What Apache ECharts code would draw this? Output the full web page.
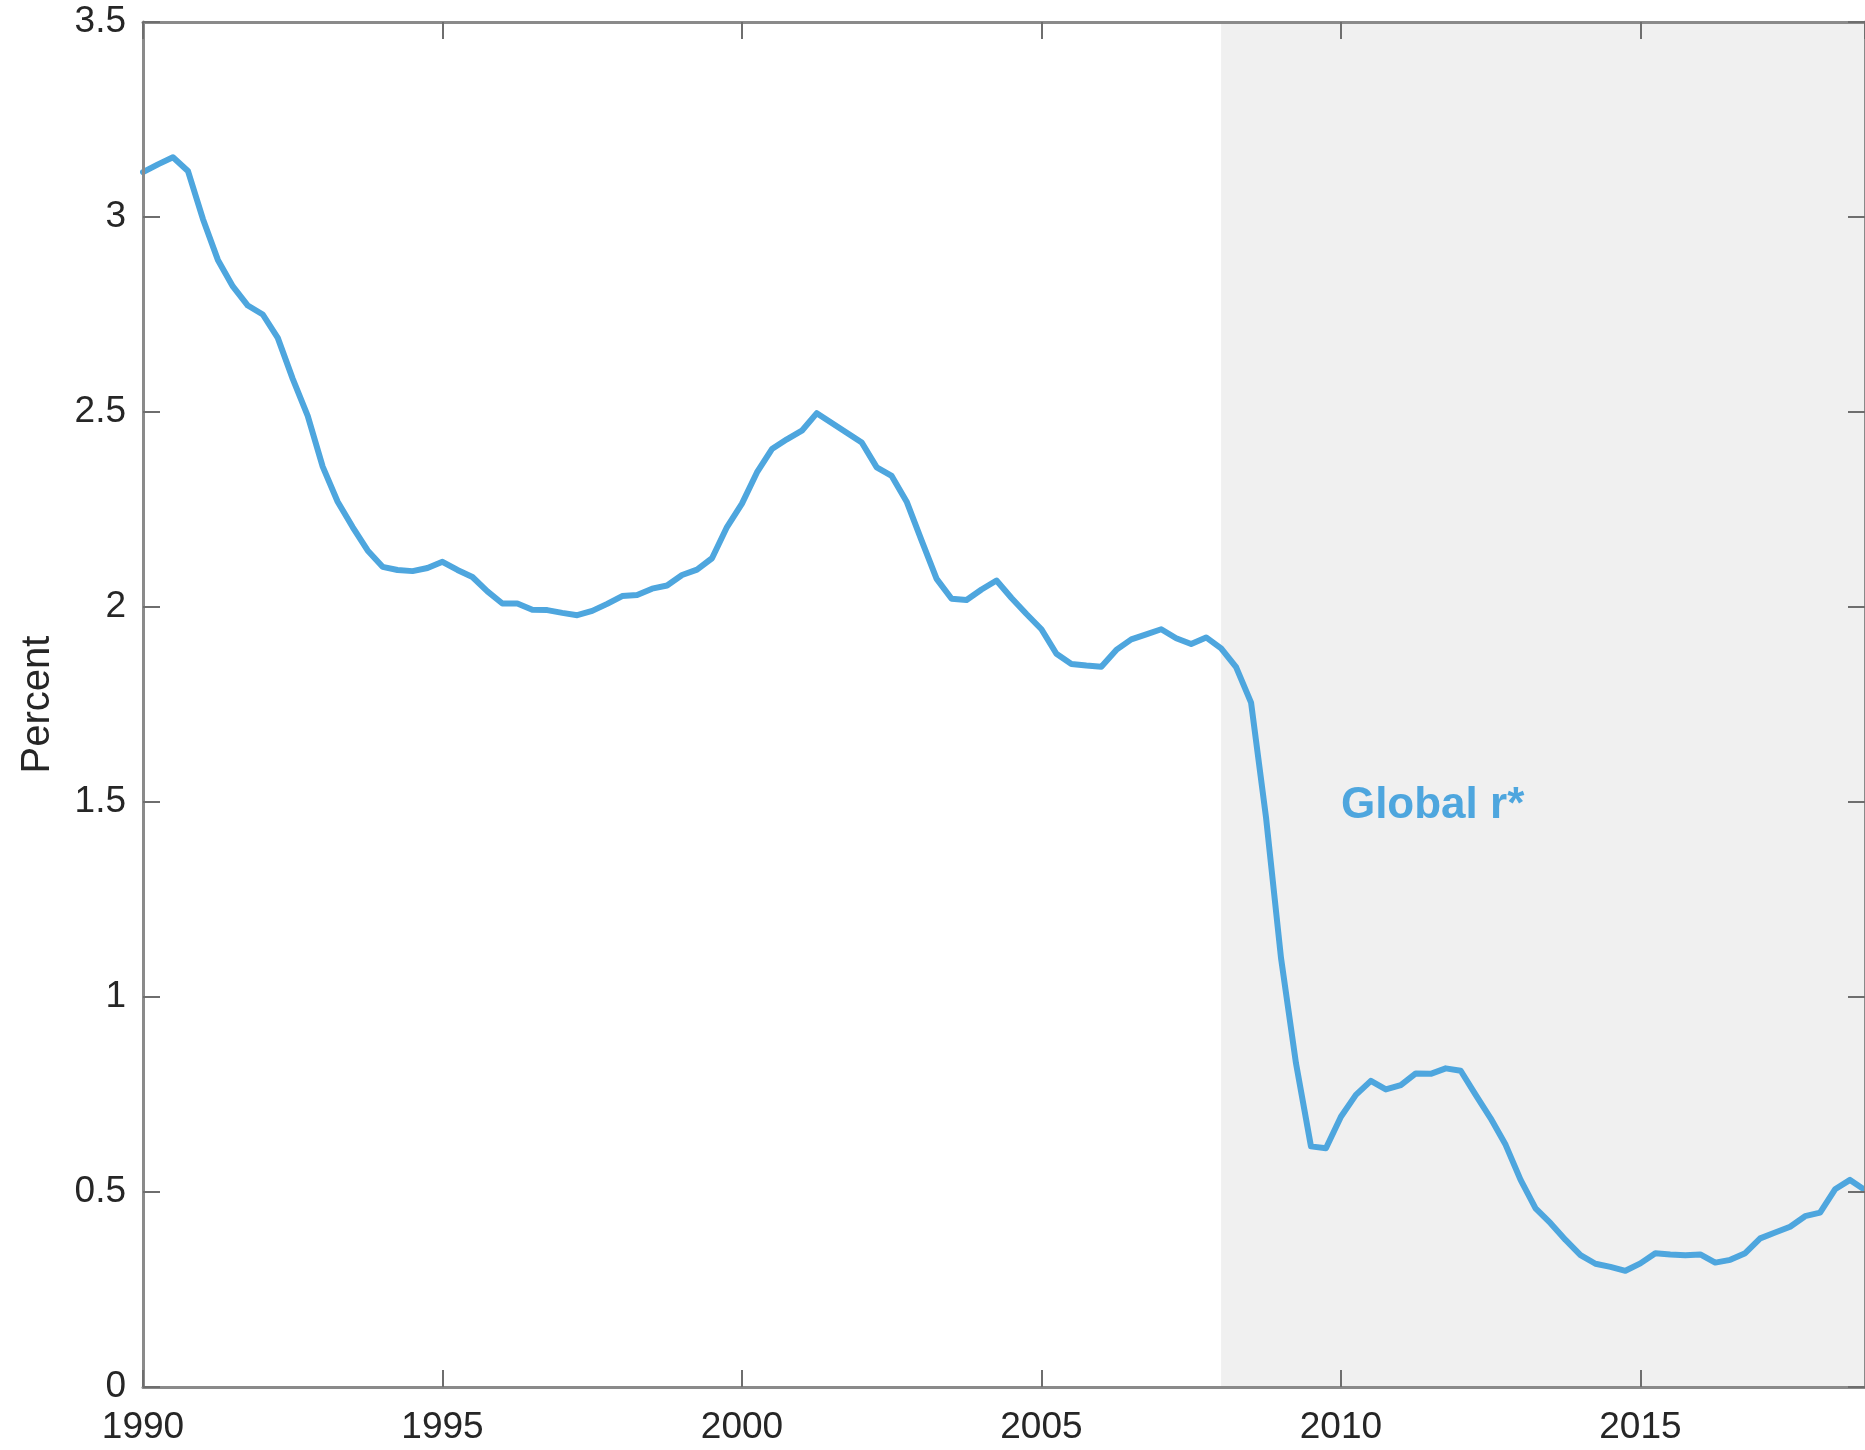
<!DOCTYPE html>
<html>
<head>
<meta charset="utf-8">
<script src="https://cdn.jsdelivr.net/npm/echarts@6/dist/echarts.min.js"></script>
<style>
html,body{margin:0;padding:0;background:#fff;overflow:hidden;}
#chart{width:1865px;height:1450px;}
</style>
</head>
<body>
<div id="chart"></div>
<script>
// Quarterly estimates of global r*, 1990Q1 .. 2018Q4 (percent)
const firstYear = 1990;
const periodsPerYear = 4;
const globalRStar = [
  3.115, 3.135, 3.153, 3.118,
  2.995, 2.890, 2.822, 2.773,
  2.750, 2.690, 2.585, 2.490,
  2.360, 2.270, 2.205, 2.145,
  2.103, 2.095, 2.092, 2.100,
  2.116, 2.095, 2.077, 2.040,
  2.009, 2.009, 1.993, 1.992,
  1.985, 1.979, 1.990, 2.008,
  2.028, 2.031, 2.047, 2.055,
  2.082, 2.096, 2.125, 2.205,
  2.265, 2.345, 2.405, 2.430,
  2.452, 2.497, 2.472, 2.447,
  2.422, 2.358, 2.336, 2.270,
  2.170, 2.072, 2.021, 2.018,
  2.045, 2.068, 2.023, 1.982,
  1.943, 1.880, 1.854, 1.850,
  1.847, 1.890, 1.917, 1.930,
  1.943, 1.920, 1.905, 1.922,
  1.894, 1.846, 1.755, 1.460,
  1.100, 0.830, 0.617, 0.612,
  0.693, 0.749, 0.785, 0.763,
  0.774, 0.804, 0.803, 0.817,
  0.811, 0.749, 0.689, 0.621,
  0.531, 0.458, 0.420, 0.377,
  0.338, 0.316, 0.308, 0.298,
  0.317, 0.343, 0.340, 0.338,
  0.340, 0.319, 0.326, 0.343,
  0.381, 0.396, 0.411, 0.438,
  0.447, 0.507, 0.531, 0.505
];
const xTickLabels = [1990, 1995, 2000, 2005, 2010, 2015];
const yTickLabels = [0, 0.5, 1, 1.5, 2, 2.5, 3, 3.5];
const shadeStart = 2008;
const annotationText = 'Global r*';
const annotationAt = [2010, 1.49];
const yAxisTitle = 'Percent';

const seriesData = globalRStar.map((v, i) => [firstYear + i / periodsPerYear, v]);
const xMin = firstYear;
const xMax = seriesData[seriesData.length - 1][0];

const lineColor = '#4ea6de';
const axisColor = '#8a8a8a';
const tickColor = '#6e6e6e';
const textColor = '#262626';
const font = "'Liberation Sans', Arial, sans-serif";

const chart = echarts.init(document.getElementById('chart'), null, {renderer: 'canvas'});

function xAxisCfg(pos, showLabels) {
  return {
    type: 'value', position: pos, min: xMin, max: xMax, interval: 5,
    z: 10,
    axisLine: {show: true, onZero: false, lineStyle: {color: axisColor, width: 3}},
    axisTick: {show: true, inside: true, length: 17,
      lineStyle: {color: tickColor, width: 2}},
    splitLine: {show: false},
    axisLabel: {
      show: showLabels, margin: 22, color: textColor, fontSize: 37, fontFamily: font,
      showMaxLabel: false,
      formatter: v => (xTickLabels.indexOf(Math.round(v * 100) / 100) >= 0 ? String(v) : '')
    }
  };
}
function yAxisCfg(pos, showLabels) {
  return {
    type: 'value', position: pos, min: yTickLabels[0], max: yTickLabels[yTickLabels.length - 1],
    interval: 0.5, z: 10,
    name: showLabels ? yAxisTitle : '',
    nameLocation: 'middle', nameGap: 85,
    nameTextStyle: {color: textColor, fontSize: 40, fontFamily: font},
    axisLine: {show: true, onZero: false, lineStyle: {color: axisColor, width: 3}},
    axisTick: {show: true, inside: true, length: 17,
      lineStyle: {color: tickColor, width: 2}},
    splitLine: {show: false},
    axisLabel: {show: showLabels, margin: 17, color: textColor, fontSize: 37, fontFamily: font}
  };
}

chart.setOption({
  animation: false,
  backgroundColor: '#ffffff',
  grid: {left: 143, top: 22, right: -3, bottom: 63, containLabel: false},
  xAxis: [xAxisCfg('bottom', true), xAxisCfg('top', false)],
  yAxis: [yAxisCfg('left', true), yAxisCfg('right', false)],
  series: [{
    type: 'line',
    data: seriesData,
    showSymbol: false,
    symbol: 'none',
    z: 3,
    lineStyle: {color: lineColor, width: 6, join: 'round', cap: 'round'},
    markArea: {
      silent: true,
      itemStyle: {color: '#f0f0f0'},
      data: [[{xAxis: shadeStart}, {xAxis: xMax}]]
    },
    markPoint: {
      silent: true,
      symbol: 'circle',
      symbolSize: 0,
      data: [{
        coord: annotationAt,
        label: {
          show: true, formatter: annotationText, position: 'right', distance: 0,
          color: lineColor, fontSize: 44, fontWeight: 'bold', fontFamily: font
        }
      }]
    }
  }]
});
</script>
</body>
</html>
